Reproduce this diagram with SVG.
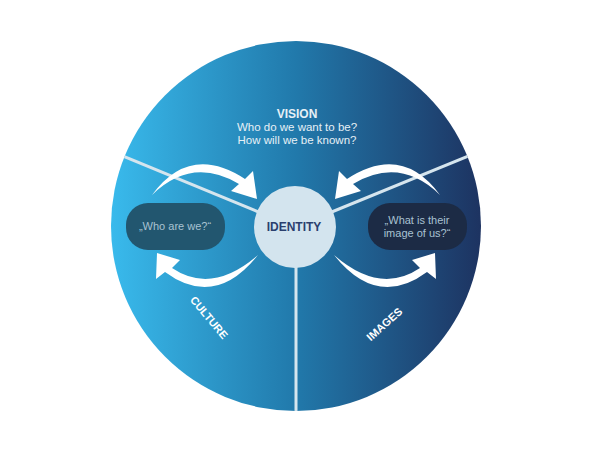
<svg xmlns="http://www.w3.org/2000/svg" width="600" height="450" viewBox="0 0 600 450">
  <defs>
    <linearGradient id="bg" gradientUnits="userSpaceOnUse" x1="111" y1="0" x2="481" y2="0">
      <stop offset="0" stop-color="#39baec"/>
      <stop offset="0.5" stop-color="#2179ab"/>
      <stop offset="1" stop-color="#1d3361"/>
    </linearGradient>
    <clipPath id="disc">
      <circle cx="296" cy="226" r="185"/>
    </clipPath>
    <style>
      text { font-family: "Liberation Sans", Arial, sans-serif; }
      .divider { stroke: #d5e5ee; stroke-width: 3; fill: none; }
      .arrow { fill: #ffffff; }
      .vision-title { font-size: 12px; font-weight: bold; fill: #e6f0f6; }
      .vision-q { font-size: 11.5px; fill: #e6f0f6; }
      .box-text { font-size: 11px; fill: #a9c2d2; }
      .sector { font-size: 11px; font-weight: bold; fill: #ffffff; }
      .identity-text { font-size: 12px; font-weight: bold; fill: #2b3f6e; }
    </style>
  </defs>

  <rect x="0" y="0" width="600" height="450" fill="#ffffff"/>

  <g id="background">
    <circle cx="296" cy="226" r="185" fill="url(#bg)"/>
    <g clip-path="url(#disc)">
      <line class="divider" x1="295" y1="227" x2="100" y2="146.5"/>
      <line class="divider" x1="295" y1="227" x2="492" y2="146.5"/>
      <line class="divider" x1="296" y1="227" x2="296" y2="420"/>
    </g>
  </g>

  <g id="connectors">
    <path class="arrow" d="M152,195 Q190,143 245,179 L253,171 L257,199 L231,191 L239,184 Q192,156 152,195 Z"/>
    <path class="arrow" transform="translate(592,0) scale(-1,1)" d="M152,195 Q190,143 245,179 L253,171 L257,199 L231,191 L239,184 Q192,156 152,195 Z"/>
    <path class="arrow" d="M258,255 Q215,309 165,272 L156,279 L157,253 L180,260 L172,268 Q212,295 258,255 Z"/>
    <path class="arrow" transform="translate(592,0) scale(-1,1)" d="M258,255 Q215,309 165,272 L156,279 L157,253 L180,260 L172,268 Q212,295 258,255 Z"/>
  </g>

  <g id="node-vision">
    <text class="vision-title" x="297" y="118" text-anchor="middle">VISION</text>
    <text class="vision-q" x="297" y="131" text-anchor="middle">Who do we want to be?</text>
    <text class="vision-q" x="297" y="144" text-anchor="middle">How will we be known?</text>
  </g>

  <g id="node-identity">
    <circle cx="295" cy="227" r="41" fill="#d3e4ee"/>
    <text class="identity-text" x="294" y="231" text-anchor="middle">IDENTITY</text>
  </g>

  <g id="node-who">
    <rect x="126" y="203" width="99" height="47" rx="22" fill="#22566f"/>
    <text class="box-text" x="175" y="230" text-anchor="middle">„Who are we?“</text>
  </g>

  <g id="node-image">
    <rect x="368" y="203" width="99" height="47" rx="22" fill="#1c2b45"/>
    <text class="box-text" x="417" y="224" text-anchor="middle">„What is their</text>
    <text class="box-text" x="417" y="236.5" text-anchor="middle">image of us?“</text>
  </g>

  <g id="node-culture">
    <text class="sector" text-anchor="middle" transform="translate(206,320) rotate(50)">CULTURE</text>
  </g>

  <g id="node-images">
    <text class="sector" text-anchor="middle" transform="translate(387,327) rotate(-42)">IMAGES</text>
  </g>
</svg>
